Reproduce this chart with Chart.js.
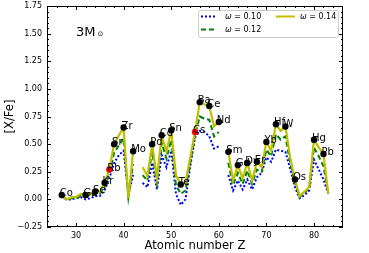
<!DOCTYPE html>
<html>
<head>
<meta charset="utf-8">
<script src="https://cdn.jsdelivr.net/npm/chart.js@4.4.1/dist/chart.umd.min.js"></script>
<style>
  html, body { margin: 0; padding: 0; background: #fff; }
</style>
</head>
<body>
<canvas id="chart" width="369" height="253"></canvas>
<script>
// atomic numbers (43 and 61 have no value -> gaps in the lines)
const zs = [27,28,29,30,31,32,33,34,35,36,37,38,39,40,41,42,43,44,45,46,47,48,49,50,51,52,53,54,55,
  56,57,58,59,60,61,62,63,64,65,66,67,68,69,70,71,72,73,74,75,76,77,78,79,80,81,82,83];

const w10 = [0.03,0.00,0.00,0.01,0.02,0.00,0.01,0.03,0.03,0.08,0.19,0.33,0.40,0.44,0.04,0.22,null,0.15,0.11,0.33,0.09,0.40,0.29,0.44,0.05,-0.05,0.00,0.30,0.56,
  0.62,0.61,0.57,0.46,0.48,null,0.22,0.08,0.17,0.09,0.18,0.09,0.20,0.24,0.38,0.34,0.45,0.44,0.43,0.28,0.11,0.01,0.04,0.08,0.36,0.27,0.18,0.05];
const w12 = [0.03,0.00,0.01,0.01,0.03,0.02,0.03,0.05,0.05,0.11,0.23,0.42,0.49,0.55,0.02,0.32,null,0.22,0.17,0.43,0.15,0.51,0.37,0.54,0.13,0.05,0.08,0.33,0.58,
  0.75,0.73,0.72,0.57,0.61,null,0.33,0.13,0.24,0.14,0.26,0.14,0.27,0.25,0.45,0.39,0.59,0.54,0.57,0.33,0.15,0.02,0.06,0.10,0.47,0.39,0.30,0.05];
const w14 = [0.04,0.00,0.02,0.02,0.05,0.04,0.05,0.07,0.07,0.15,0.27,0.50,0.58,0.65,0.01,0.435,null,0.29,0.21,0.50,0.19,0.58,0.43,0.625,0.22,0.135,0.15,0.38,0.61,
  0.88,0.86,0.845,0.66,0.70,null,0.43,0.17,0.31,0.19,0.33,0.17,0.34,0.29,0.52,0.44,0.68,0.62,0.66,0.38,0.18,0.03,0.07,0.11,0.54,0.47,0.41,0.05];

// marked elements (sit on the omega = 0.14 curve)
const dotNames = ['Co','Ge','Se','Kr','Sr','Zr','Mo','Pd','Cd','Sn','Te','Ba','Ce','Nd','Sm','Gd','Dy','Er','Yb','Hf','W','Os','Hg','Pb'];
const dotZ = [27,32,34,36,38,40,42,46,48,50,52,56,58,60,62,64,66,68,70,72,74,76,80,82];
const redNames = ['Rb','Cs'];
const redZ = [37,55];

const xTicks = [30,40,50,60,70,80];
const yTicks = [-0.25,0,0.25,0.5,0.75,1,1.25,1.5,1.75];

const series = ['0.10','0.12','0.14'];
const colors = ['#0000ff','#008000','#bfbf00'];

function pts(vals) { return zs.map((z, i) => ({ x: z, y: vals[i] })); }
function onCurve(list) { return list.map(z => ({ x: z, y: w14[zs.indexOf(z)] })); }

Chart.defaults.font.family = 'DejaVu Sans';
Chart.defaults.color = '#000';

// frame with inward major/minor ticks on all four sides
const frame = {
  id: 'frame',
  afterDatasetsDraw(chart) {
    const { ctx, chartArea: a, scales: { x, y } } = chart;
    ctx.save();
    ctx.strokeStyle = '#000';
    ctx.lineWidth = 1;
    ctx.strokeRect(a.left + 0.5, a.top + 0.5, a.right - a.left - 1, a.bottom - a.top - 1);
    ctx.beginPath();
    for (let v = 24; v <= 86; v += 2) {
      const len = v % 10 === 0 ? 4 : 2;
      const px = Math.round(x.getPixelForValue(v)) + 0.5;
      if (px < a.left || px > a.right) continue;
      ctx.moveTo(px, a.bottom); ctx.lineTo(px, a.bottom - len);
      ctx.moveTo(px, a.top); ctx.lineTo(px, a.top + len);
    }
    for (let k = -5; k <= 35; k++) {
      const len = k % 5 === 0 ? 4 : 2;
      const py = Math.round(y.getPixelForValue(k * 0.05)) + 0.5;
      ctx.moveTo(a.left, py); ctx.lineTo(a.left + len, py);
      ctx.moveTo(a.right, py); ctx.lineTo(a.right - len, py);
    }
    ctx.stroke();
    ctx.restore();
  }
};

// element names, mass label and legend
const notes = {
  id: 'notes',
  afterDraw(chart) {
    const ctx = chart.ctx;
    ctx.save();
    ctx.fillStyle = '#000';
    ctx.font = '10px "DejaVu Sans"';
    ctx.textBaseline = 'alphabetic';
    [[0, dotNames], [1, redNames]].forEach(([di, names]) => {
      chart.getDatasetMeta(di).data.forEach((el, i) => {
        ctx.fillText(names[i], el.x - 2, el.y + 1);
      });
    });

    ctx.font = '13px "DejaVu Sans"';
    ctx.fillText('3M', 76, 36);
    ctx.font = '7px "DejaVu Sans"';
    ctx.fillText('\u2299', 97.5, 36);

    // legend
    const bx = 198, by = 10, bw = 140, bh = 27;
    ctx.fillStyle = 'rgba(255,255,255,0.8)';
    ctx.strokeStyle = '#cccccc';
    ctx.lineWidth = 1;
    ctx.beginPath();
    ctx.roundRect(bx + 0.5, by + 0.5, bw, bh, 2);
    ctx.fill();
    ctx.stroke();
    const slots = [[201, 16.5], [201, 29.5], [276, 16.5]];
    const dashes = [[2, 2], [5, 3], []];
    series.forEach((s, i) => {
      const [sx, sy] = slots[i];
      ctx.strokeStyle = colors[i];
      ctx.lineWidth = 2;
      ctx.setLineDash(dashes[i]);
      ctx.beginPath();
      ctx.moveTo(sx, sy); ctx.lineTo(sx + (i === 2 ? 19 : 16), sy);
      ctx.stroke();
      ctx.setLineDash([]);
      ctx.fillStyle = '#000';
      ctx.textBaseline = 'middle';
      const tx = sx + 24;
      ctx.font = 'italic 8px "DejaVu Sans"';
      ctx.fillText('\u03c9', tx, sy);
      const ww = ctx.measureText('\u03c9').width;
      ctx.font = '8px "DejaVu Sans"';
      ctx.fillText(' = ' + s, tx + ww, sy);
    });
    ctx.restore();
  }
};

new Chart(document.getElementById('chart'), {
  type: 'line',
  data: {
    datasets: [
      { label: 'marked', data: onCurve(dotZ), showLine: false, pointRadius: 3.2,
        pointBackgroundColor: '#000', pointBorderWidth: 0, order: 0 },
      { label: 'red', data: onCurve(redZ), showLine: false, pointRadius: 3.2,
        pointBackgroundColor: '#ff0000', pointBorderWidth: 0, order: 0 },
      { label: '\u03c9 = 0.14', data: pts(w14), borderColor: colors[2], borderWidth: 2.2,
        pointRadius: 0, order: 1 },
      { label: '\u03c9 = 0.12', data: pts(w12), borderColor: colors[1], borderWidth: 2,
        borderDash: [5, 3], pointRadius: 0, order: 2 },
      { label: '\u03c9 = 0.10', data: pts(w10), borderColor: colors[0], borderWidth: 2,
        borderDash: [2, 2], pointRadius: 0, order: 3 }
    ]
  },
  options: {
    responsive: false,
    animation: false,
    spanGaps: false,
    elements: { line: { tension: 0, fill: false } },
    layout: { padding: { top: 6, right: 26, left: 0, bottom: 0 } },
    plugins: { legend: { display: false }, tooltip: { enabled: false } },
    scales: {
      x: {
        type: 'linear', min: 23.9, max: 86.1,
        afterBuildTicks: s => { s.ticks = xTicks.map(v => ({ value: v })); },
        afterFit: s => { s.height = 26; s.paddingLeft = 0; s.paddingRight = 0; },
        grid: { display: false, drawTicks: false },
        border: { display: false },
        ticks: { font: { size: 8 }, padding: 4, maxRotation: 0, color: '#000' },
        title: { display: true, text: 'Atomic number Z', font: { size: 11.6 }, padding: 0, color: '#000' }
      },
      y: {
        type: 'linear', min: -0.25, max: 1.75,
        afterBuildTicks: s => { s.ticks = yTicks.map(v => ({ value: v })); },
        afterFit: s => { s.width = 47; s.paddingTop = 0; s.paddingBottom = 0; },
        grid: { display: false, drawTicks: false },
        border: { display: false },
        ticks: { font: { size: 8 }, padding: 5, color: '#000',
          callback: v => (v < 0 ? '\u2212' : '') + Math.abs(v).toFixed(2) },
        title: { display: true, text: '[X/Fe]', font: { size: 11.6 }, padding: 3, color: '#000' }
      }
    }
  },
  plugins: [frame, notes]
});
</script>
</body>
</html>
